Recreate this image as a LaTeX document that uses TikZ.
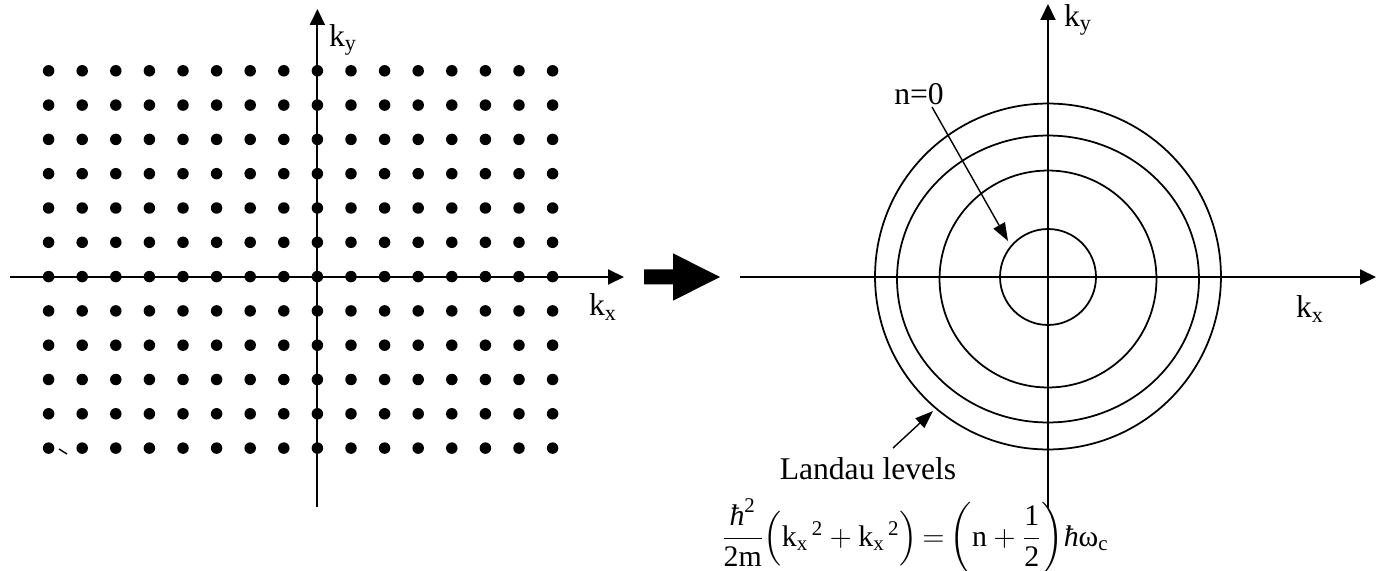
\documentclass[tikz,border=0pt]{standalone}
\usepackage{amsmath}
\usepackage{fontspec}
\setmainfont{Liberation Serif}
\usetikzlibrary{arrows.meta}

\begin{document}
\begin{tikzpicture}[x=0.02cm,y=-0.02cm,
  lbl/.style={inner sep=0pt,font=\fontsize{18}{22}\selectfont},
  ax/.style={line width=1.1pt,-{Triangle[length=0.32cm,width=0.3cm]}},
  ptr/.style={line width=0.8pt,-{Triangle[length=0.36cm,width=0.26cm]}},
  lvl/.style={line width=1pt}]
  \useasboundingbox (0,0) rectangle (1384,571);
  % free electron states on the k lattice
  \foreach \i in {0,...,15} \foreach \j in {0,...,11} \fill (48.6+33.6*\i,70.8+34.3*\j) circle[radius=0.115cm];
  \draw[line width=0.8pt] (59,449) -- (67,454);
  \coordinate (oL) at (317.4,277); \coordinate (xL0) at (10,277); \coordinate (xL1) at (624,277);
  \coordinate (yL0) at (317.4,507); \coordinate (yL1) at (317.4,9);
  \draw[ax] (xL0) -- (xL1); \draw[ax] (yL0) -- (yL1);
  \node[lbl] (kxL) at (603,307) {k\textsubscript{x}}; \node[lbl] (kyL) at (343,40) {k\textsubscript{y}};
  % big arrow between the two panels
  \fill (644,269.3) -- (673,269.3) -- (673,253.3) -- (720,277) -- (673,300.7) -- (673,284.3) -- (644,284.3) -- cycle;
  % Landau levels
  \coordinate (oR) at (1048,277); \coordinate (xR0) at (740,277); \coordinate (xR1) at (1376,277);
  \coordinate (yR0) at (1048,508); \coordinate (yR1) at (1048,4);
  \draw[lvl] (oR) circle[radius=0.96cm];
  \draw[lvl] (1048,279) circle[radius=2.17cm];
  \draw[lvl] (1048,279) circle[x radius=3.02cm,y radius=2.87cm];
  \draw[lvl] (1048,276.5) circle[radius=3.46cm];
  \draw[ax] (xR0) -- (xR1); \draw[ax] (yR0) -- (yR1);
  \node[lbl] (kxR) at (1310,309) {k\textsubscript{x}}; \node[lbl] (kyR) at (1078,20) {k\textsubscript{y}};
  \node[lbl] (nzero) at (919,94) {n=0};
  \coordinate (nzeroFoot) at (932,107); \coordinate (nzeroTip) at (1008,241);
  \draw[ptr] (nzeroFoot) -- (nzeroTip);
  \node[lbl] (landau) at (868,469) {Landau levels};
  \coordinate (landauFoot) at (893,448); \coordinate (landauTip) at (933,411);
  \draw[ptr] (landauFoot) -- (landauTip);
  \node[lbl,font=\fontsize{17}{20}\selectfont] (levelEq) at (915,537) {$\dfrac{\textit{ħ}^{\text{2}}}{\text{2m}}\Bigl(\text{k}_{\text{x}}{}^{\,\text{2}}+\text{k}_{\text{x}}{}^{\,\text{2}}\Bigr)\,{=}\,\biggl(\text{n}+\dfrac{\text{1}}{\text{2}}\biggr)\textit{ħ}\text{ω}_{\text{c}}$};
\end{tikzpicture}
\end{document}
